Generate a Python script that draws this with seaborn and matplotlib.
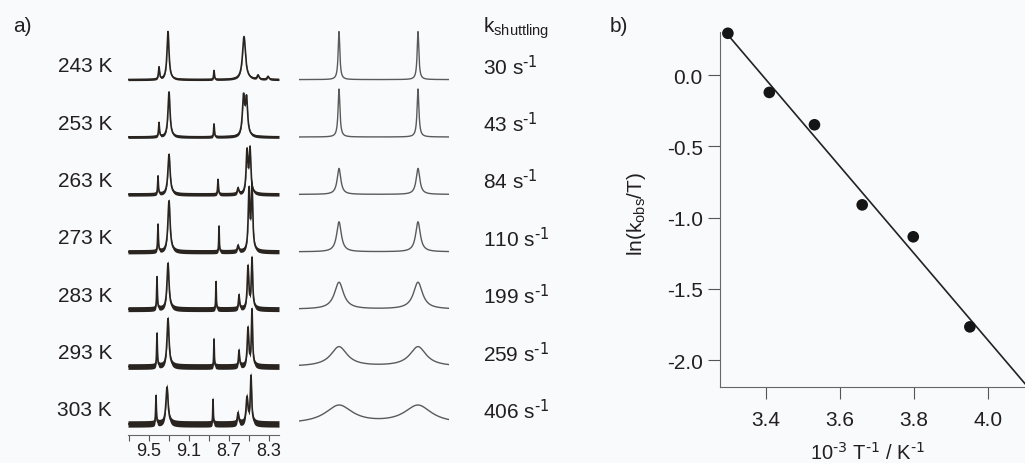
import numpy as np
import pandas as pd
import matplotlib.pyplot as plt
import seaborn as sns
from matplotlib import transforms

# --- data ---
temps = ['243 K', '253 K', '263 K', '273 K', '283 K', '293 K', '303 K']
rates = [30, 43, 84, 110, 199, 259, 406]

# experimental 1H peaks per temperature: position (ppm), height (a.u.), half width (ppm)
exp_pos = [[9.40, 9.31, 8.85, 8.55, 8.41, 8.31],
           [9.40, 9.30, 8.85, 8.555, 8.525],
           [9.41, 9.30, 8.81, 8.61, 8.52, 8.49],
           [9.41, 9.30, 8.80, 8.61, 8.50, 8.47],
           [9.42, 9.31, 8.83, 8.60, 8.51, 8.47],
           [9.42, 9.31, 8.85, 8.60, 8.51, 8.47],
           [9.43, 9.32, 8.86, 8.61, 8.52, 8.48]]
exp_height = [[12, 48, 9, 43, 4, 3],
              [14, 45, 13, 38, 36],
              [18, 40, 15, 6, 42, 44],
              [27, 51, 26, 6, 60, 64],
              [32, 46, 28, 14, 42, 50],
              [33, 48, 28, 16, 38, 56],
              [28, 37, 25, 11, 26, 47]]
exp_width = [[0.006, 0.012, 0.004, 0.018, 0.01, 0.01],
             [0.005, 0.012, 0.004, 0.013, 0.013],
             [0.004, 0.013, 0.004, 0.008, 0.010, 0.010],
             [0.004, 0.013, 0.003, 0.008, 0.009, 0.009],
             [0.004, 0.012, 0.003, 0.006, 0.009, 0.008],
             [0.004, 0.012, 0.003, 0.006, 0.009, 0.007],
             [0.004, 0.013, 0.003, 0.008, 0.011, 0.008]]

# simulated two-site exchange spectra
sim_pos = [9.31, 8.52]
sim_height = [48, 48, 26, 30, 27, 20, 19]
sim_width = [0.010, 0.011, 0.022, 0.028, 0.055, 0.10, 0.165]

# Eyring plot
inv_T = [3.297, 3.409, 3.531, 3.660, 3.798, 3.951]
ln_k_T = [0.293, -0.122, -0.349, -0.911, -1.135, -1.767]

W, H = 1025, 464
step = 57.4
ink = '#231f20'

sns.set_theme(style='ticks')
plt.rcParams['font.family'] = ['Liberation Sans', 'DejaVu Sans']
plt.rcParams['mathtext.default'] = 'regular'
plt.rcParams['text.color'] = ink
plt.rcParams['axes.labelcolor'] = ink
plt.rcParams['xtick.color'] = '#555555'
plt.rcParams['ytick.color'] = '#555555'
plt.rcParams['xtick.labelcolor'] = ink
plt.rcParams['ytick.labelcolor'] = ink

fig = plt.figure(figsize=(W / 100, H / 100), dpi=100, facecolor='#f9fafc')


def px_axes(l, t, r, b):
    ax = fig.add_axes([l / W, 1 - b / H, (r - l) / W, (b - t) / H])
    ax.set_facecolor('none')
    return ax


def lorentz(x, p, h, w):
    return h * w ** 2 / ((x - p) ** 2 + w ** 2)


ax_exp = px_axes(128, 0, 279, 436)
ax_sim = px_axes(299, 0, 449, 436)
ax_b = px_axes(720, 33, 1025, 388)

ppm_exp = np.linspace(9.71, 8.20, 1510)
ppm_sim = np.linspace(9.71, 8.21, 1500)

for i in range(7):
    base = (6 - i) * step
    y = sum(lorentz(ppm_exp, p, h, w) for p, h, w in zip(exp_pos[i], exp_height[i], exp_width[i]))
    noise = 1.1 + 0.35 * i
    ax_exp.fill_between(ppm_exp, base + y - noise, base + y + noise, color='#2a2420', lw=0)
    sns.lineplot(x=ppm_exp, y=base + y, ax=ax_exp, color='#2a2420', lw=1.2, sort=False)

    s = sum(lorentz(ppm_sim, p, 1.0, sim_width[i]) for p in sim_pos)
    s = s / s.max() * sim_height[i]
    sns.lineplot(x=ppm_sim, y=base + s, ax=ax_sim, color='#5a5a5a', lw=1.0, sort=False)

for ax in (ax_exp, ax_sim):
    ax.set_ylim(-11, 425)
    ax.set_xlabel('')
    ax.set_ylabel('')
    ax.set_yticks([])
    for sp in ['top', 'right', 'left']:
        ax.spines[sp].set_visible(False)

ax_exp.set_xlim(9.71, 8.20)
ax_exp.set_xticks([9.5, 9.1, 8.7, 8.3])
ax_exp.set_xticks([9.7, 9.3, 8.9, 8.5], minor=True)
ax_exp.set_xticklabels(['9.5', '9.1', '8.7', '8.3'])
ax_exp.tick_params(axis='x', which='both', length=4, width=0.8, direction='out', labelsize=13, pad=1)
ax_exp.spines['bottom'].set_color('#666666')
ax_exp.spines['bottom'].set_linewidth(0.8)

ax_sim.set_xlim(9.71, 8.21)
ax_sim.spines['bottom'].set_visible(False)
ax_sim.set_xticks([])

tr_l = transforms.blended_transform_factory(fig.transFigure, ax_exp.transData)
for i in range(7):
    yc = (6 - i) * step + 14
    ax_exp.text(112 / W, yc, temps[i], transform=tr_l, ha='right', va='center', fontsize=15)
    ax_exp.text(483 / W, yc, f'{rates[i]} s' + r'$^{\text{-1}}$', transform=tr_l,
                ha='left', va='center', fontsize=15)

fig.text(483 / W, 1 - 33 / H, 'k$_{shuttling}$', ha='left', va='baseline', fontsize=15)
fig.text(13 / W, 1 - 27 / H, 'a)', ha='left', va='center', fontsize=15)
fig.text(610 / W, 1 - 27 / H, 'b)', ha='left', va='center', fontsize=15)

# --- panel b ---
df = pd.DataFrame({'invT': inv_T, 'lnkT': ln_k_T})
ax_b.set_xlim(inv_T[0], 4.3)
sns.regplot(data=df, x='invT', y='lnkT', ax=ax_b, ci=None, truncate=False,
            scatter_kws=dict(s=70, color='#151515', edgecolor='none', alpha=1, clip_on=False, zorder=3),
            line_kws=dict(color='#222222', lw=1.2))
ax_b.set_xlim(3.2757, 4.10)
ax_b.set_ylim(-2.189, 0.302)
ax_b.set_xticks([3.4, 3.6, 3.8, 4.0])
ax_b.set_yticks([0.0, -0.5, -1.0, -1.5, -2.0])
ax_b.set_xticklabels(['3.4', '3.6', '3.8', '4.0'])
ax_b.set_yticklabels(['0.0', '-0.5', '-1.0', '-1.5', '-2.0'])
ax_b.tick_params(axis='y', length=8.5, width=0.8, labelsize=15, pad=4)
ax_b.tick_params(axis='x', length=8.5, width=0.8, labelsize=15, pad=8)
for sp in ['top', 'right']:
    ax_b.spines[sp].set_visible(False)
for sp in ['left', 'bottom']:
    ax_b.spines[sp].set_color('#666666')
    ax_b.spines[sp].set_linewidth(0.8)
ax_b.set_ylabel('ln(k$_{obs}$/T)', fontsize=15)
ax_b.set_xlabel(r'10$^{\text{-3}}$ T$^{\text{-1}}$ / K$^{\text{-1}}$', fontsize=14.5)
ax_b.yaxis.set_label_coords(-0.235, 0.49)
ax_b.xaxis.set_label_coords(0.485, -0.152)

fig.savefig('out.png', dpi=100, facecolor=fig.get_facecolor())
